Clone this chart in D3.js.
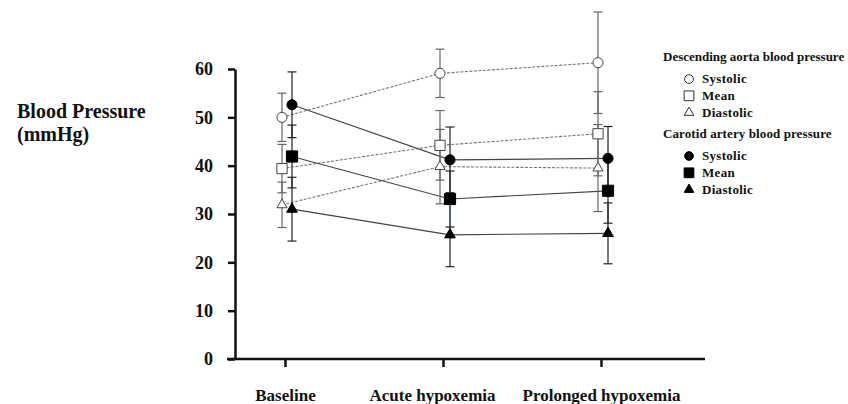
<!DOCTYPE html>
<html>
<head>
<meta charset="utf-8">
<script src="https://cdn.jsdelivr.net/npm/d3@7"></script>
<style>
  body { margin: 0; background: #fff; }
  text { font-family: "Liberation Serif", "Times New Roman", serif; font-weight: bold; fill: #111; }
</style>
</head>
<body>
<div id="chart"></div>
<script>
// Data
var phases = ["Baseline", "Acute hypoxemia", "Prolonged hypoxemia"];
var yTicks = [0, 10, 20, 30, 40, 50, 60];

var aortaSystolic = [50.0, 59.1, 61.3];
var aortaSystolicErr = [5.0, 5.0, 10.5];
var aortaMean = [39.4, 44.2, 46.6];
var aortaMeanErr = [5.0, 7.2, 8.7];
var aortaDiastolic = [31.9, 39.8, 39.5];
var aortaDiastolicErr = [4.7, 7.7, 9.0];

var carotidSystolic = [52.6, 41.2, 41.5];
var carotidSystolicErr = [6.8, 6.8, 6.6];
var carotidMean = [41.9, 33.1, 34.8];
var carotidMeanErr = [6.5, 5.8, 6.7];
var carotidDiastolic = [31.0, 25.7, 26.0];
var carotidDiastolicErr = [6.6, 6.6, 6.3];

var width = 848, height = 404;

var svg = d3.select("#chart").append("svg")
    .attr("width", width)
    .attr("height", height);

var xScale = d3.scalePoint().domain(phases).range([285, 601]);
var yScale = d3.scaleLinear().domain([0, 60]).range([359, 69]);

// series setup: open markers for descending aorta, filled for carotid
var series = [
  {group: "aorta", name: "Systolic", shape: d3.symbolCircle, size: 80, vals: aortaSystolic, err: aortaSystolicErr},
  {group: "aorta", name: "Mean", shape: d3.symbolSquare, size: 105, vals: aortaMean, err: aortaMeanErr},
  {group: "aorta", name: "Diastolic", shape: d3.symbolTriangle, size: 45, vals: aortaDiastolic, err: aortaDiastolicErr},
  {group: "carotid", name: "Systolic", shape: d3.symbolCircle, size: 80, vals: carotidSystolic, err: carotidSystolicErr},
  {group: "carotid", name: "Mean", shape: d3.symbolSquare, size: 125, vals: carotidMean, err: carotidMeanErr},
  {group: "carotid", name: "Diastolic", shape: d3.symbolTriangle, size: 50, vals: carotidDiastolic, err: carotidDiastolicErr}
];

function xPos(s, i) {
  return xScale(phases[i]) + (s.group === "aorta" ? -3 : 7);
}

// axes
var yAxis = d3.axisLeft(yScale).tickValues(yTicks).tickSizeInner(7).tickSizeOuter(0).tickPadding(15);
var gy = svg.append("g")
    .attr("class", "yAxis")
    .attr("transform", "translate(235,0)")
    .call(yAxis);
gy.select(".domain").attr("stroke", "#111").attr("stroke-width", 2.5);
gy.selectAll(".tick line").attr("stroke", "#111").attr("stroke-width", 2.5);
gy.selectAll(".tick text").attr("font-size", 18).attr("fill", "#111")
    .attr("font-family", "Liberation Serif").attr("font-weight", "bold");

var xAxis = d3.axisBottom(xScale).tickSizeInner(8).tickSizeOuter(0).tickPadding(20);
var gx = svg.append("g")
    .attr("class", "xAxis")
    .attr("transform", "translate(0,359)")
    .call(xAxis);
gx.select(".domain").attr("d", "M227,0H705").attr("stroke", "#111").attr("stroke-width", 2.5);
gx.selectAll(".tick line").attr("stroke", "#111").attr("stroke-width", 2.5);
gx.selectAll(".tick text").attr("font-size", 17).attr("fill", "#111")
    .attr("font-family", "Liberation Serif").attr("font-weight", "bold")
    .attr("dy", "0.8em")
    .attr("dx", function(d) { return d === "Acute hypoxemia" ? -11 : 0; });

// y title
var yTitle = svg.append("text").attr("x", 17).attr("y", 118).attr("font-size", 20);
yTitle.append("tspan").attr("x", 17).text("Blood Pressure");
yTitle.append("tspan").attr("x", 17).attr("dy", 23).text("(mmHg)");

// connecting lines
var line = d3.line();
series.forEach(function(s) {
  svg.append("path")
      .attr("d", line(s.vals.map(function(v, i) { return [xPos(s, i), yScale(v)]; })))
      .attr("fill", "none")
      .attr("stroke", s.group === "aorta" ? "#777" : "#444")
      .attr("stroke-width", s.group === "aorta" ? 1.1 : 1.2)
      .attr("stroke-dasharray", s.group === "aorta" ? "3,1.5" : null);
});

// error bars
series.forEach(function(s) {
  var col = s.group === "aorta" ? "#666" : "#222";
  s.vals.forEach(function(v, i) {
    var x = xPos(s, i);
    var top = yScale(v + s.err[i]), bot = yScale(v - s.err[i]), mid = yScale(v);
    var eb = svg.append("g").attr("stroke", col).attr("stroke-width", 1.2);
    eb.append("line").attr("x1", x).attr("x2", x).attr("y1", top).attr("y2", mid);
    eb.append("line").attr("x1", x).attr("x2", x).attr("y1", mid).attr("y2", bot)
        .attr("stroke", s.group === "carotid" && s.name === "Mean" && i === 1 ? "#5b9bd5" : col);
    eb.append("line").attr("x1", x - 4.5).attr("x2", x + 4.5).attr("y1", top).attr("y2", top);
    eb.append("line").attr("x1", x - 4.5).attr("x2", x + 4.5).attr("y1", bot).attr("y2", bot);
  });
});

// markers
series.forEach(function(s) {
  var sym = d3.symbol().type(s.shape).size(s.size);
  svg.selectAll(null)
      .data(s.vals)
      .enter()
      .append("path")
      .attr("d", sym)
      .attr("transform", function(d, i) { return "translate(" + xPos(s, i) + "," + yScale(d) + ")"; })
      .attr("fill", s.group === "aorta" ? "#fff" : "#000")
      .attr("stroke", s.group === "aorta" ? "#444" : "#000")
      .attr("stroke-width", 1);
});

// legend
var legendGroups = [
  {title: "Descending aorta blood pressure", group: "aorta", y: 61, spacing: 0},
  {title: "Carotid artery blood pressure", group: "carotid", y: 138, spacing: 0.1}
];
legendGroups.forEach(function(g) {
  svg.append("text").attr("x", 663).attr("y", g.y).attr("font-size", 13)
      .attr("letter-spacing", g.spacing).text(g.title);
  series.filter(function(s) { return s.group === g.group; }).forEach(function(s, k) {
    var cy = g.y + 18 + k * 16.8;
    svg.append("path")
        .attr("d", d3.symbol().type(s.shape).size(s.shape === d3.symbolTriangle ? 40 : s.shape === d3.symbolSquare ? 95 : 60)())
        .attr("transform", "translate(689," + cy + ")")
        .attr("fill", g.group === "aorta" ? "#fff" : "#000")
        .attr("stroke", g.group === "aorta" ? "#333" : "#000")
        .attr("stroke-width", 1);
    svg.append("text").attr("x", 702).attr("y", cy + 4).attr("font-size", 13)
        .attr("letter-spacing", 0.3).text(s.name);
  });
});
</script>
</body>
</html>
